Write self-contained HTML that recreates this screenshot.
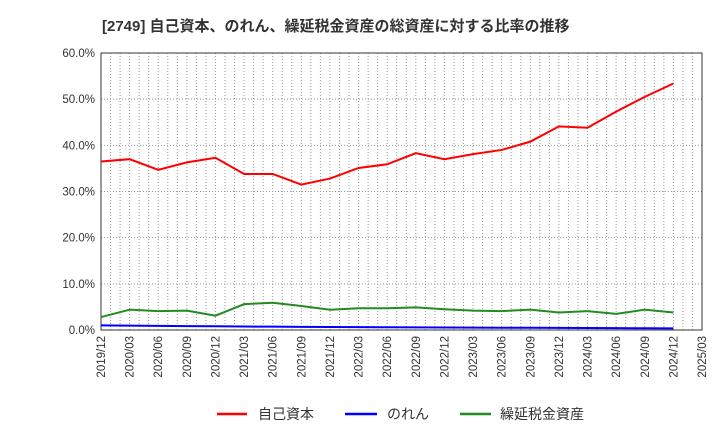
<!DOCTYPE html>
<html><head><meta charset="utf-8"><style>
body{margin:0;background:#fff;}
svg text{font-family:"Liberation Sans","Noto Sans CJK JP",sans-serif;}
</style></head><body>
<svg id="chart" width="720" height="440" xmlns="http://www.w3.org/2000/svg">
<text x="102" y="31" font-size="15" font-weight="bold" fill="#333">[2749]  自己資本、のれん、繰延税金資産の総資産に対する比率の推移</text>
<g id="grid"></g><g id="axes"></g><g id="series"></g>
<g>
<line x1="217" y1="414" x2="247" y2="414" stroke="#f00" stroke-width="2.5"/>
<text x="258" y="419" font-size="14" fill="#333">自己資本</text>
<line x1="345" y1="414" x2="377" y2="414" stroke="#00f" stroke-width="2.5"/>
<text x="387" y="419" font-size="14" fill="#333">のれん</text>
<line x1="460" y1="414" x2="491" y2="414" stroke="#228b22" stroke-width="2.5"/>
<text x="500" y="419" font-size="14" fill="#333">繰延税金資産</text>
</g>
</svg>
<script>
const xLabels=["2019/12","2020/03","2020/06","2020/09","2020/12","2021/03","2021/06","2021/09","2021/12","2022/03","2022/06","2022/09","2022/12","2023/03","2023/06","2023/09","2023/12","2024/03","2024/06","2024/09","2024/12","2025/03"];
const yTicks=[0,10,20,30,40,50,60];
const equity=[36.5,37.0,34.7,36.3,37.3,33.8,33.8,31.5,32.8,35.1,35.9,38.3,37.0,38.1,39.0,40.8,44.1,43.8,47.3,50.5,53.4];
const goodwill=[1.0,0.95,0.9,0.85,0.8,0.75,0.72,0.68,0.65,0.62,0.6,0.58,0.55,0.52,0.5,0.48,0.45,0.42,0.4,0.37,0.35];
const dta=[2.8,4.4,4.1,4.2,3.1,5.6,5.9,5.2,4.4,4.7,4.7,4.9,4.5,4.2,4.1,4.4,3.8,4.1,3.5,4.4,3.8];
const L=101,R=702,T=53,B=330,NS="http://www.w3.org/2000/svg";
const xq=i=>L+i*(R-L)/(xLabels.length-1);
const xm=m=>L+m*(R-L)/((xLabels.length-1)*3);
const y=v=>B-v*(B-T)/60;
function mk(t,a,p){const e=document.createElementNS(NS,t);for(const k in a)e.setAttribute(k,a[k]);p.appendChild(e);return e;}
const g=document.getElementById('grid'),ax=document.getElementById('axes'),s=document.getElementById('series');
for(let m=1;m<(xLabels.length-1)*3;m++){const l=mk('line',{x1:xm(m),x2:xm(m),y1:T,y2:B,stroke:'#999','stroke-width':1,'stroke-dasharray':'1,2'},g);

}
yTicks.forEach(v=>{if(v>0&&v<60){const l=mk('line',{x1:L,x2:R,y1:y(v),y2:y(v),stroke:'#999','stroke-width':1,'stroke-dasharray':'1,2'},g);

}
const t=mk('text',{x:L-6,y:y(v)+4,'text-anchor':'end','font-size':11.5,fill:'#333'},ax);t.textContent=v.toFixed(1)+'%';

});
const fr=mk('rect',{x:L,y:T,width:R-L,height:B-T,fill:'none',stroke:'#333','stroke-width':1},ax);


xLabels.forEach((lab,i)=>{const t=mk('text',{transform:`translate(${xq(i)+4},${B+6}) rotate(-90)`,'text-anchor':'end','font-size':11.5,fill:'#333'},ax);t.textContent=lab;

});
[[equity,'#f00','equity-line'],[goodwill,'#00f','goodwill-line'],[dta,'#228b22','dta-line']].forEach(([d,c,n])=>{
const p=mk('polyline',{points:d.map((v,i)=>xq(i)+','+y(v)).join(' '),fill:'none',stroke:c,'stroke-width':2},s);

});
</script>
</body></html>
